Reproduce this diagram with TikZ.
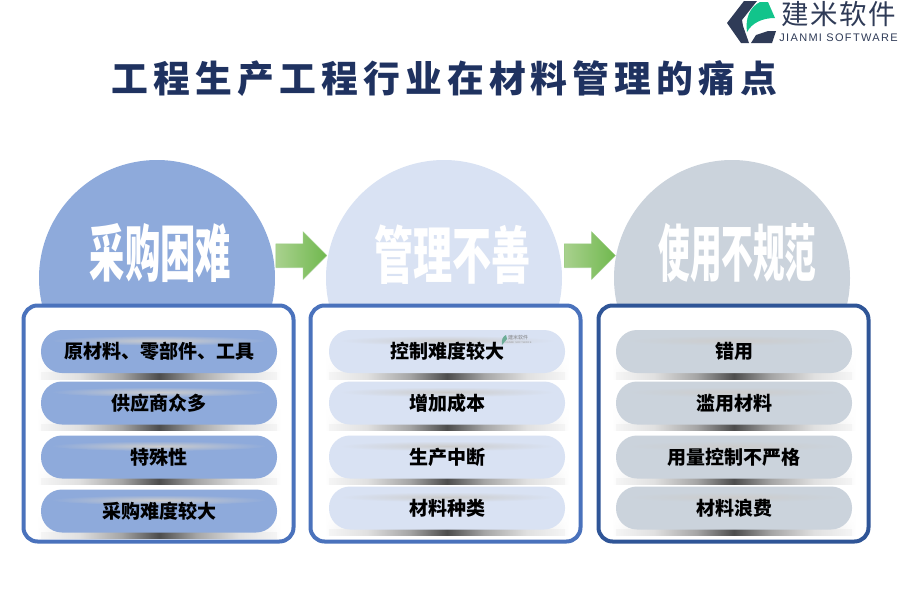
\documentclass[tikz,border=0pt]{standalone}
\usepackage{fontspec}
\usepackage{tikz}
\usetikzlibrary{positioning, shapes.arrows, shadows, fadings}
\newfontfamily\cjk{Noto Sans CJK SC}
\newfontfamily\cjkwide{Noto Sans CJK SC}[LetterSpace=14]
\newfontfamily\cjklogo{Noto Sans CJK SC}[LetterSpace=6]
\newfontfamily\logolatin{Liberation Sans}[LetterSpace=12]
\definecolor{bluea}{HTML}{8EAADB}
\definecolor{blueb}{HTML}{D9E2F3}
\definecolor{greyc}{HTML}{CBD3DC}
\definecolor{framea}{HTML}{4A72BC}
\definecolor{framec}{HTML}{2F5597}
\definecolor{titleblue}{HTML}{1F3260}
\definecolor{logodark}{HTML}{2F3B57}
\definecolor{logogreen}{HTML}{12C48B}
\definecolor{flowlight}{HTML}{A9D18E}
\definecolor{flowdark}{HTML}{70B84E}
\pgfdeclarehorizontalshading{rowband}{100bp}{color(0bp)=(white); color(25bp)=(black!4); color(33bp)=(black!12); color(42bp)=(black!35); color(50bp)=(black!70); color(58bp)=(black!35); color(67bp)=(black!12); color(75bp)=(black!4); color(100bp)=(white)}
\pgfdeclarehorizontalshading{rowglow}{100bp}{color(0bp)=(white); color(25bp)=(white); color(31bp)=(black!10); color(69bp)=(black!10); color(75bp)=(white); color(100bp)=(white)}
\tikzset{
  head/.style={circle, minimum size=236pt, inner sep=0pt},
  headtext/.style={text=white, font=\cjk\bfseries\fontsize{62}{62}\selectfont, transform shape},
  panel/.style={draw, line width=4pt, fill=white, rounded corners=14pt, minimum width=270pt, minimum height=236pt, inner sep=0pt},
  pill/.style={rounded corners=21pt, minimum width=236pt, minimum height=43pt, inner sep=0pt,
    font=\cjk\bfseries\fontsize{19}{19}\selectfont, text=black},
  flow/.style={single arrow, single arrow head extend=12pt, single arrow tip angle=90,
    minimum height=51pt, minimum width=47pt, inner xsep=0pt, inner ysep=11.5pt, left color=flowlight,
    right color=flowdark, draw=flowdark!70, line width=.5pt, drop shadow={opacity=.12, shadow xshift=0pt, shadow yshift=-1pt}},
}
% one pill with its band below and its light streak inside
\newcommand{\pillrow}[5]{%
  \shade[shading=rowglow, path fading=north] (#2-122,#3+6) rectangle (#2+122,#3+27.5);
  \shade[shading=rowband] (#2-118,#3+21) rectangle (#2+118,#3+27.5);
  \node[pill, fill=#4] (#1) at (#2,#3) {\phantom{x}};
  \shade[inner color=black!20, outer color=#4] (#2,#3-11) ellipse (108 and 5);
  \node[pill] (#1t) at (#2,#3) {#5};
}
\begin{document}
\begin{tikzpicture}[x=1pt, y=-1pt, >=stealth]
  \useasboundingbox (0,0) rectangle (900,600);

  % Title
  \node[text=titleblue, font=\cjkwide\bfseries\fontsize{36.8}{36.8}\selectfont] (title) at (444.5,79) {工程生产工程行业在材料管理的痛点};

  % Logo
  \fill[logodark] (727,23) -- (744,1) -- (757,1) -- (742,20) -- (743,26) -- (749,43) -- (741,43) -- cycle;
  \fill[logodark] (751,43) -- (772,43) -- (776,31) -- (768,31) -- (756,35) -- cycle;
  \fill[logogreen] (747,32) .. controls (745,18) and (750,7) .. (760,2) -- (768,2) -- (775,18) .. controls (762,18) and (752,23) .. (747,32) -- cycle;
  \node[text=logodark, font=\cjklogo\fontsize{27.5}{27.5}\selectfont] (logo) at (839,14) {建米软件};
  \node[text=logodark, font=\logolatin\fontsize{11}{11}\selectfont] (logosub) at (838.5,38) {JIANMI\ SOFTWARE};

  % Circles
  \node[head, fill=bluea] (heada) at (157,278) {};
  \node[head, fill=blueb] (headb) at (444,278) {};
  \node[head, fill=greyc] (headc) at (732,278) {};
  \node[headtext, xscale=.57] (headatext) at (160.5,253) {采购困难};
  \node[headtext, xscale=.63] (headbtext) at (452.5,255) {管理不善};
  \node[headtext, xscale=.51] (headctext) at (737.5,253) {使用不规范};

  % Arrows
  \node[flow] (flowab) at (295.5,255.5) {};
  \node[flow] (flowbc) at (584,255.5) {};

  % Panels
  \node[panel, draw=framea] (panela) at (158.5,423.5) {};
  \node[panel, draw=framea] (panelb) at (445.5,423.5) {};
  \node[panel, draw=framec] (panelc) at (733.5,423.5) {};

  % Rows
  \pillrow{aa}{159}{351.5}{bluea}{原材料、零部件、工具}
  \pillrow{ab}{159}{403}{bluea}{供应商众多}
  \pillrow{ac}{159}{457}{bluea}{特殊性}
  \pillrow{ad}{159}{511}{bluea}{采购难度较大}

  \pillrow{ba}{447}{351.5}{blueb}{控制难度较大}
  \pillrow{bb}{447}{403}{blueb}{增加成本}
  \pillrow{bc}{447}{457}{blueb}{生产中断}
  \pillrow{bd}{447}{508}{blueb}{材料种类}

  \pillrow{ca}{734}{351.5}{greyc}{错用}
  \pillrow{cb}{734}{403}{greyc}{滥用材料}
  \pillrow{cc}{734}{457}{greyc}{用量控制不严格}
  \pillrow{cd}{734}{508}{greyc}{材料浪费}

  % Small mark on the first row
  \fill[logogreen!60!black!60] (502,345) .. controls (501,340) and (503,336) .. (506,335) -- (507,339) -- cycle;
  \node[text=black!50, font=\cjk\fontsize{5}{5}\selectfont] (mark) at (518,338) {建米软件};
  \node[text=black!40, font=\logolatin\fontsize{2.5}{2.5}\selectfont] (marksub) at (518,342.5) {JIANMI SOFTWARE};
\end{tikzpicture}
\end{document}
